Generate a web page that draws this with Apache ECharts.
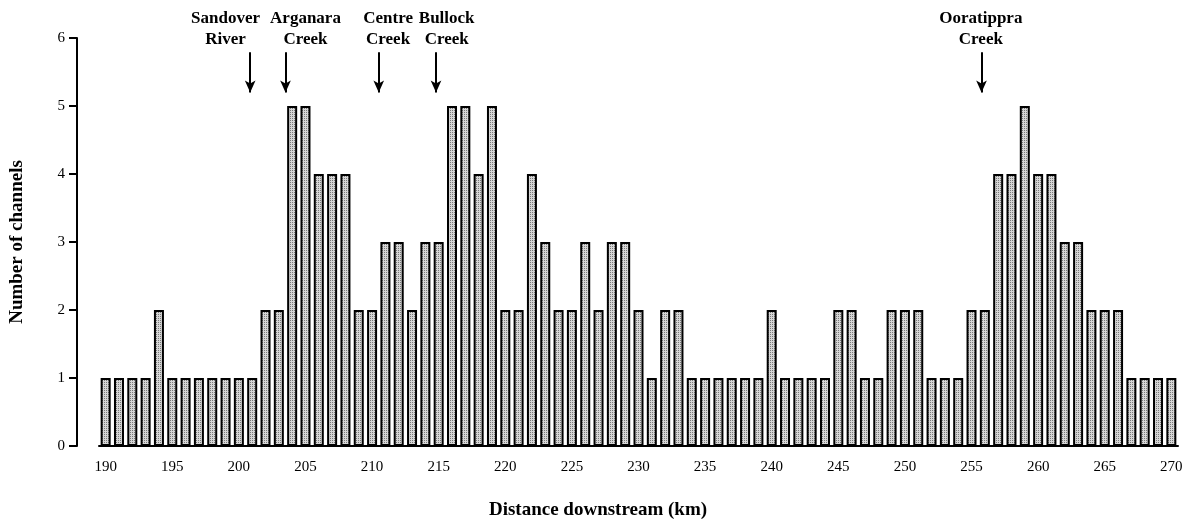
<!DOCTYPE html>
<html><head><meta charset="utf-8">
<script src="https://cdn.jsdelivr.net/npm/echarts@6/dist/echarts.min.js"></script>
<style>html,body{margin:0;padding:0;background:#fff}#c{width:1196px;height:525px}</style>
</head><body><div id="c"></div>
<script>
// Distance downstream (km) categories
const distanceKm = ['190','191','192','193','194','195','196','197','198','199','200','201','202','203','204','205','206','207','208','209','210','211','212','213','214','215','216','217','218','219','220','221','222','223','224','225','226','227','228','229','230','231','232','233','234','235','236','237','238','239','240','241','242','243','244','245','246','247','248','249','250','251','252','253','254','255','256','257','258','259','260','261','262','263','264','265','266','267','268','269','270'];
// Number of channels
const channels = [1,1,1,1,2,1,1,1,1,1,1,1,2,2,5,5,4,4,4,2,2,3,3,2,3,3,5,5,4,5,2,2,4,3,2,2,3,2,3,3,2,1,2,2,1,1,1,1,1,1,2,1,1,1,1,2,2,1,1,2,2,2,1,1,1,2,2,4,4,5,4,4,3,3,2,2,2,1,1,1,1];
const yTicks = [0,1,2,3,4,5,6];
// Creek annotations: arrow km, label km, label text
const creekNames = ['Sandover\nRiver','Arganara\nCreek','Centre\nCreek','Bullock\nCreek','Ooratippra\nCreek'];
const creekArrowKm = [200.85, 203.5, 210.5, 214.8, 255.75];
const creekLabelKm = [199.0, 205.0, 211.2, 215.6, 255.7];

const serif = '"Liberation Serif","Times New Roman",serif';
const pc = document.createElement('canvas');
pc.width = 2; pc.height = 2;
const px = pc.getContext('2d');
px.fillStyle = '#d6d6d6'; px.fillRect(0,0,2,2);
px.fillStyle = '#7a7a7a'; px.fillRect(0,0,1,1);

const chart = echarts.init(document.getElementById('c'), null, {renderer:'canvas'});
chart.setOption({
  animation: false,
  backgroundColor: '#fff',
  title: {
    text: 'Distance downstream (km)', left: 'center', top: 496,
    textStyle: {fontFamily: serif, fontWeight: 'bold', fontSize: 19, color: '#000'}
  },
  grid: {left: 97, right: 18, top: 38, bottom: 79, containLabel: false},
  xAxis: [{
    type: 'category', data: distanceKm, boundaryGap: true,
    axisLine: {lineStyle: {color: '#000', width: 2}},
    axisTick: {interval: 4, alignWithLabel: true, length: 8, lineStyle: {color: '#000', width: 2}},
    axisLabel: {interval: 4, margin: 14, fontFamily: serif, fontSize: 15, color: '#000'},
    splitLine: {show: false}
  }, {
    type: 'value', min: 189.5, max: 270.5, show: false
  }],
  yAxis: {
    type: 'value', min: yTicks[0], max: yTicks[yTicks.length-1], interval: 1, offset: 22,
    name: 'Number of channels', nameLocation: 'middle', nameGap: 50,
    nameTextStyle: {fontFamily: serif, fontWeight: 'bold', fontSize: 19, color: '#000'},
    axisLine: {show: true, lineStyle: {color: '#000', width: 2}},
    axisTick: {show: true, length: 8, lineStyle: {color: '#000', width: 2}},
    axisLabel: {margin: 12, fontFamily: serif, fontSize: 15, color: '#000'},
    splitLine: {show: false}
  },
  series: [{
    type: 'bar', data: channels, barWidth: 10, xAxisIndex: 0,
    itemStyle: {color: {image: pc, repeat: 'repeat'}, borderColor: '#000', borderWidth: 2}
  }, {
    type: 'scatter', xAxisIndex: 1, symbolSize: 0, clip: false,
    itemStyle: {opacity: 1, color: '#000'},
    data: creekLabelKm.map((k, i) => ({value: [k, 5.8], name: creekNames[i]})),
    label: {show: true, position: 'top', distance: 1, formatter: p => p.name, opacity: 1,
      fontFamily: serif, fontWeight: 'bold', fontSize: 17, lineHeight: 21, color: '#000', align: 'center'},
    markLine: {
      silent: true, symbol: ['none', 'arrow'], symbolSize: [8, 12], precision: 4,
      lineStyle: {color: '#000', width: 2, type: 'solid', opacity: 1},
      label: {show: false},
      data: creekArrowKm.map(k => [{coord: [k, 5.79]}, {coord: [k, 5.2]}])
    }
  }]
});
</script></body></html>
